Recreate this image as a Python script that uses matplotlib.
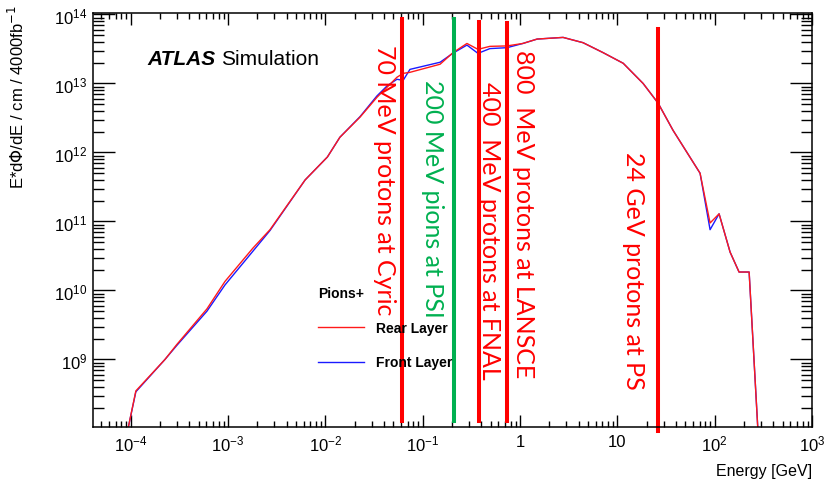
import numpy as np
import matplotlib
matplotlib.use("Agg")
from matplotlib import pyplot as plt
from matplotlib.ticker import LogLocator, FixedLocator, NullFormatter

# pion+ fluence spectrum
energy = [9.4e-5, 1.13e-4, 2.25e-4, 2.98e-4, 6.07e-4, 9.3e-4, 1.8e-3, 2.7e-3,
          6.2e-3, 1.05e-2, 1.41e-2, 2.27e-2, 3.39e-2, 4.3e-2, 5.44e-2, 6.3e-2,
          7.4e-2, 0.151, 0.205, 0.285, 0.37, 0.49, 0.735, 1.07, 1.5, 2.77,
          4.44, 7.13, 11.5, 18.4, 26.2, 37.3, 70.8, 89.7, 111, 144, 178, 226, 280]
rear = [1e8, 3.5e8, 1.0e9, 1.65e9, 5.4e9, 1.35e10, 4.1e10, 7.6e10,
        4.0e11, 8.6e11, 1.66e12, 3.25e12, 6.3e12, 8.8e12, 1.23e13, 1.40e13,
        1.45e13, 1.9e13, 2.8e13, 3.8e13, 3.12e13, 3.45e13, 3.5e13, 3.8e13, 4.4e13, 4.65e13,
        3.9e13, 2.8e13, 1.96e13, 1.0e13, 5.2e12, 2.1e12, 5.0e11, 9.5e10, 1.29e11, 3.6e10, 1.85e10, 1.85e10, 8e7]
front = [1e8, 3.4e8, 1.0e9, 1.6e9, 5.0e9, 1.2e10, 3.7e10, 7.4e10,
         4.0e11, 8.6e11, 1.66e12, 3.3e12, 6.6e12, 9.2e12, 1.15e13, 1.11e13,
         1.6e13, 2.03e13, 2.75e13, 3.6e13, 2.73e13, 3.2e13, 3.3e13, 3.8e13, 4.4e13, 4.65e13,
         3.9e13, 2.8e13, 1.96e13, 1.0e13, 5.2e12, 2.1e12, 5.0e11, 7.6e10, 1.29e11, 3.6e10, 1.85e10, 1.85e10, 8e7]

# irradiation facilities (GeV)
beam_energy = [0.0612, 0.21, 0.379, 0.735, 26.2]
beam_label = ["70 MeV protons at Cyric", "200 MeV pions at PSI", "400  MeV protons at FNAL",
              "800  MeV protons at LANSCE", "24 GeV protons at PS"]
beam_color = ["#ff0000", "#00b050", "#ff0000", "#ff0000", "#ff0000"]

xticks = [1e-4, 1e-3, 1e-2, 1e-1, 1, 10, 1e2, 1e3]
xticklabels = [r"$\mathdefault{10^{-4}}$", r"$\mathdefault{10^{-3}}$", r"$\mathdefault{10^{-2}}$",
               r"$\mathdefault{10^{-1}}$", "1", "10", r"$\mathdefault{10^{2}}$", r"$\mathdefault{10^{3}}$"]
yticks = [1e9, 1e10, 1e11, 1e12, 1e13, 1e14]
yticklabels = [r"$\mathdefault{10^{%d}}$" % p for p in range(9, 15)]

plt.rcParams["font.family"] = ["Liberation Sans", "DejaVu Sans"]

fig = plt.figure(figsize=(8.25, 4.81), dpi=100)
ax = fig.add_axes([93 / 825, 53 / 481, 719 / 825, 414 / 481])

ax.plot(energy, front, c="#1a1aff", lw=1.0, label="Front Layer")
ax.plot(energy, rear, c="#ff1a1a", lw=1.0, label="Rear Layer")

ax.set_xscale("log")
ax.set_yscale("log")
ax.set_xlim(4.1e-5, 1e3)
ax.set_ylim(1.05e8, 1.05e14)

ax.xaxis.set_major_locator(FixedLocator(xticks))
ax.set_xticklabels(xticklabels)
ax.xaxis.set_minor_locator(LogLocator(base=10, subs=np.arange(2, 10), numticks=20))
ax.xaxis.set_minor_formatter(NullFormatter())
ax.yaxis.set_major_locator(FixedLocator(yticks))
ax.set_yticklabels(yticklabels)
ax.yaxis.set_minor_locator(LogLocator(base=10, subs=np.arange(2, 10), numticks=20))
ax.yaxis.set_minor_formatter(NullFormatter())

ax.tick_params(axis="x", which="major", direction="in", length=8.6, width=1, top=True, labelsize=12, pad=5)
ax.tick_params(axis="x", which="minor", direction="in", length=4, width=1, top=True)
ax.tick_params(axis="y", which="major", direction="in", length=15.5, width=1, right=True, labelsize=12, pad=4)
ax.tick_params(axis="y", which="minor", direction="in", length=8, width=1, right=True)
for s in ax.spines.values():
    s.set_linewidth(1.1)

# facility markers
tops = [0.986, 0.986, 0.979, 0.976, 0.961]
text_top = [0.925, 0.841, 0.836, 0.913, 0.667]
text_dx = [-17, -22, 11, 17, -25]
for e, lab, col, t, tt, dx in zip(beam_energy, beam_label, beam_color, tops, text_top, text_dx):
    ax.axvline(e, ymin=-0.01 if e > 10 else 0.015, ymax=t, color=col, lw=2.9, clip_on=False)
    ax.annotate(lab, xy=(e, tt), xycoords=("data", "axes fraction"),
                xytext=(dx * 0.72, 0), textcoords="offset points",
                rotation=-90, ha="center", va="top", color=col,
                fontsize=18, family=["Lato", "DejaVu Sans"])

ax.text(0.075, 0.889, "ATLAS", transform=ax.transAxes, fontsize=15,
        fontweight="bold", style="italic", va="center")
ax.text(0.178, 0.889, "Simulation", transform=ax.transAxes, fontsize=15, va="center")

h, l = ax.get_legend_handles_labels()
leg = ax.legend(h[::-1], l[::-1], title="Pions+", loc="upper left", bbox_to_anchor=(0.313, 0.341),
                frameon=False, borderpad=0, borderaxespad=0, handlelength=3.3,
                handletextpad=0.86, labelspacing=1.5, alignment="left",
                prop={"weight": "bold", "size": 10})
leg.get_title().set_fontweight("bold")
leg.get_title().set_fontsize(10)

fig.text(17 / 825, 1 - 5 / 481, r"E*d$\Phi$/dE / cm / 4000fb$^{-1}$", rotation=90,
         ha="center", va="top", fontsize=12)
fig.text(812 / 825, 1 - 472 / 481, "Energy [GeV]", ha="right", va="center", fontsize=11.5)

plt.savefig("out.png", dpi=100)
